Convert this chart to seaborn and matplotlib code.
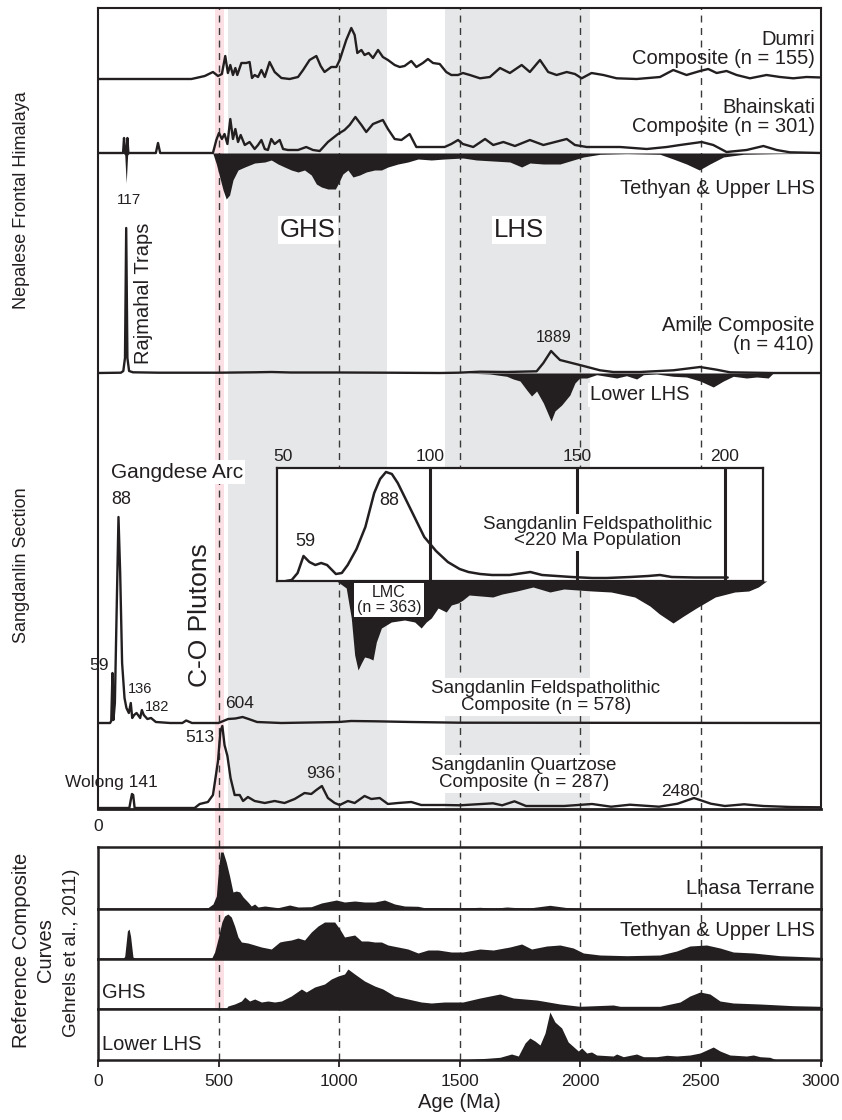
import numpy as np
import pandas as pd
import matplotlib
matplotlib.use("Agg")
import matplotlib.pyplot as plt
import seaborn as sns
from matplotlib import font_manager

# Detrital zircon age curves: (age in Ma, relative probability)
dumri = [(0, 0), (387, 0), (401, 0.7), (443, 3), (477, 7), (498, 3), (514, 5), (528, 23), (539, 6), (549, 14),
         (560, 4), (570, 11), (578, 4), (595, 16), (615, 16), (629, 17), (639, 1), (650, 4), (664, 2), (678, 9),
         (692, 2), (712, 17), (733, 7), (761, 1), (795, 0), (830, 2), (851, 9), (878, 19), (906, 23), (924, 13),
         (940, 7), (968, 12), (989, 12), (1003, 19), (1030, 39), (1051, 51), (1065, 44), (1076, 26), (1093, 29),
         (1106, 24), (1123, 26), (1141, 21), (1162, 29), (1182, 22), (1203, 19), (1231, 14), (1252, 12),
         (1272, 13), (1300, 18), (1321, 12), (1348, 16), (1369, 20), (1390, 16), (1418, 15), (1445, 7),
         (1466, 4), (1494, 4), (1514, 6), (1543, 4), (1585, 0.7), (1626, 2), (1668, 11), (1709, 6), (1758, 14),
         (1792, 7), (1834, 19), (1868, 7), (1903, 4), (1945, 7), (1979, 5), (2007, 0.7), (2048, 6), (2097, 4),
         (2152, 0.7), (2235, 0), (2332, 2), (2387, 9), (2442, 4), (2498, 8), (2532, 10), (2567, 6), (2608, 8),
         (2650, 4), (2705, 0.7), (2774, 4), (2830, 2), (2885, 0.7), (2940, 2), (3000, 1.5)]

bhainskati = [(0, 0), (100, 0), (104, 0), (108, 15), (112, 0), (118, 0), (122, 15), (126, 0), (240, 0), (249, 10),
              (258, 0), (477, 0), (491, 13), (502, 20), (514, 14), (525, 19), (537, 9), (549, 34), (560, 14),
              (570, 24), (581, 11), (592, 18), (609, 8), (629, 11), (650, 4), (664, 8), (678, 13), (692, 4),
              (705, 3), (719, 14), (733, 9), (754, 13), (768, 4), (788, 3), (830, 3), (864, 6), (892, 3), (920, 2),
              (954, 11), (996, 19), (1023, 23), (1044, 28), (1068, 36), (1093, 28), (1113, 21), (1141, 29),
              (1182, 33), (1203, 24), (1231, 14), (1259, 13), (1293, 19), (1321, 6), (1362, 6), (1397, 6),
              (1438, 6), (1466, 9), (1494, 13), (1514, 9), (1557, 6), (1606, 14), (1640, 8), (1682, 11), (1730, 7),
              (1792, 13), (1848, 8), (1945, 14), (1979, 8), (2028, 6), (2097, 6), (2166, 6), (2277, 4), (2360, 6),
              (2415, 8), (2505, 11), (2553, 8), (2608, 1), (2691, 3), (2761, 7), (2816, 3), (2871, 0.7), (3000, 0)]

tethyan_top = [(0, 0), (105, 0), (111, 2), (117, 30), (123, 2), (130, 0), (470, 0), (477, 0.7), (491, 11), (505, 24),
               (519, 37), (532, 46), (546, 42), (560, 27), (581, 17), (609, 14), (650, 10), (692, 9), (719, 7),
               (747, 11), (774, 14), (802, 17), (830, 19), (857, 17), (885, 22), (906, 31), (927, 34), (954, 36),
               (985, 36), (996, 31), (1016, 21), (1037, 17), (1058, 24), (1086, 22), (1113, 19), (1148, 17),
               (1176, 17), (1203, 14), (1245, 11), (1286, 9), (1328, 6), (1383, 7), (1438, 6), (1514, 5),
               (1571, 7), (1640, 8), (1709, 9), (1758, 14), (1792, 10), (1848, 11), (1917, 11), (1972, 7),
               (2014, 4), (2083, 1.3), (2194, 0.7), (2332, 1.3), (2387, 6), (2442, 11), (2495, 17), (2539, 11),
               (2595, 4), (2678, 1.3), (2816, 0.7), (3000, 0.3)]

amile = [(0, 0), (95, 0.3), (105, 2), (112, 15), (117, 145), (122, 15), (129, 2), (145, 0.7), (250, 0.3), (500, 0.3),
         (650, 0.7), (720, 1), (800, 0.5), (1000, 0.5), (1200, 0.3), (1419, 0), (1495, 0.3), (1585, 1.3),
         (1696, 1), (1820, 1.7), (1848, 10), (1880, 22), (1896, 18), (1917, 13), (1999, 8), (2083, 2.7),
         (2138, 1), (2249, 1), (2387, 2.7), (2498, 6), (2567, 3.3), (2622, 0.7), (2802, 0), (3000, 0)]

lower_lhs_top = [(1540, 0), (1557, 0.3), (1626, 1), (1696, 3.3), (1723, 6), (1751, 8), (1779, 17), (1799, 23),
                 (1820, 18), (1848, 30), (1880, 48), (1896, 38), (1924, 32), (1958, 22), (1979, 10), (1999, 5),
                 (2028, 5), (2069, 1.7), (2110, 3.3), (2152, 5), (2193, 2.7), (2235, 6), (2263, 1.7), (2318, 1),
                 (2387, 3.3), (2442, 4), (2498, 8), (2553, 14), (2595, 8), (2636, 3.3), (2691, 5), (2733, 4),
                 (2781, 5), (2802, 0)]

lmc = [(990, 0), (996, 1), (1030, 7), (1051, 37), (1065, 74), (1079, 89), (1093, 82), (1106, 76), (1123, 77),
       (1141, 79), (1155, 61), (1176, 47), (1217, 41), (1272, 39), (1314, 41), (1341, 47), (1362, 41), (1383, 37),
       (1411, 27), (1445, 31), (1466, 24), (1494, 22), (1514, 19), (1540, 14), (1638, 16), (1677, 13), (1738, 10),
       (1805, 6), (1875, 11), (1933, 8), (2051, 10), (2129, 11), (2227, 16), (2290, 25), (2330, 33), (2386, 42),
       (2430, 35), (2483, 27), (2561, 16), (2642, 11), (2700, 10), (2740, 6), (2768, 1), (2775, 0)]

feldspatholithic = [(0, 0), (50, 0), (55, 2), (60, 50), (64, 3), (70, 20), (78, 120), (85, 206), (92, 150), (100, 60),
                    (110, 25), (118, 15), (128, 10), (136, 20), (142, 5), (150, 8), (160, 10), (175, 5), (182, 13),
                    (190, 8), (205, 4), (220, 5), (240, 1), (300, 0), (350, 0), (366, 2.5), (390, 0), (500, 0),
                    (540, 4), (570, 4.5), (600, 6), (625, 4), (660, 1), (760, 0), (1000, 1), (1050, 2), (1150, 1.7),
                    (1300, 1), (1500, 0.3), (3000, 0)]

quartzose = [(0, 0), (130, 0), (136, 8), (141, 14), (146, 13), (152, 0), (401, 0), (422, 4), (456, 6), (477, 13),
             (498, 47), (508, 77), (516, 82), (525, 63), (537, 52), (550, 30), (567, 13), (588, 13), (602, 7),
             (622, 11), (650, 7), (692, 5), (733, 7), (774, 5), (816, 9), (857, 15), (885, 14), (906, 18), (929, 22),
             (954, 10), (982, 5), (1003, 3), (1037, 7), (1065, 5), (1106, 12), (1134, 9), (1169, 10), (1203, 4),
             (1245, 5), (1300, 6), (1341, 3), (1383, 3), (1438, 3), (1503, 2.7), (1639, 4.7), (1677, 2.7),
             (1728, 6.7), (1776, 2), (1934, 2), (2050, 4), (2129, 1.3), (2207, 3.3), (2328, 1.3), (2405, 4.3),
             (2473, 10), (2543, 4.3), (2601, 2), (2681, 3.7), (2760, 2), (2876, 1), (3000, 0.7)]

# <220 Ma population (inset)
young_pop = [(51, 0), (53, 1), (55, 8), (57, 25), (59, 19), (61, 16), (63, 18), (65, 16), (68, 7), (70, 8), (72, 16),
             (75, 32), (78, 54), (81, 88), (83, 102), (85, 109), (87, 107), (89, 98), (91, 86), (94, 68), (98, 44),
             (102, 30), (106, 19), (110, 12), (113, 9), (117, 7), (121, 6), (127, 6), (134, 9), (138, 6), (143, 5),
             (148, 4), (155, 3), (160, 3), (168, 4), (174, 5), (178, 6), (182, 4), (190, 3.5), (201, 3.5)]

# Reference composite curves (Gehrels et al., 2011)
ref_lhasa = [(0, 0), (415, 0), (456, 1.3), (477, 5), (491, 13), (501, 43), (509, 57), (519, 57), (532, 47), (546, 33),
             (560, 17), (574, 18), (588, 17), (602, 12), (622, 7), (636, 3), (650, 5), (664, 2), (692, 3),
             (747, 1.3), (795, 4), (830, 2), (885, 2.3), (927, 6), (989, 9), (1023, 7), (1065, 8), (1106, 7),
             (1148, 7), (1189, 9), (1231, 5), (1272, 3), (1328, 2.7), (1355, 1.3), (1514, 1), (1585, 1.7),
             (1640, 0.7), (1696, 2), (1779, 0.7), (1875, 3.7), (1958, 1), (2000, 0.3), (3000, 0)]

ref_tethyan = [(0, 0), (104, 0), (111, 3), (122, 28), (129, 30), (135, 23), (145, 2), (159, 0), (470, 0), (484, 7),
               (498, 20), (514, 37), (525, 43), (539, 45), (553, 42), (567, 33), (581, 22), (595, 17), (622, 16),
               (650, 14), (678, 12), (719, 10), (754, 17), (774, 18), (802, 19), (830, 21), (857, 19), (885, 27),
               (913, 33), (940, 37), (982, 37), (1003, 30), (1023, 22), (1044, 23), (1065, 24), (1093, 18),
               (1120, 18), (1148, 17), (1176, 17), (1203, 14), (1245, 12), (1286, 10), (1328, 6), (1369, 9),
               (1411, 9), (1466, 7), (1514, 7), (1585, 10), (1640, 9), (1709, 12), (1758, 15), (1799, 10),
               (1862, 13), (1917, 14), (1972, 11), (2014, 6), (2083, 4), (2194, 3.3), (2332, 4), (2401, 8),
               (2456, 13), (2525, 14), (2581, 11), (2636, 7), (2719, 6), (2830, 3.3), (3000, 1.7)]

ref_ghs = [(0, 0), (530, 0), (539, 3), (567, 5), (595, 8), (609, 12), (629, 8), (650, 10), (678, 7), (705, 8),
           (733, 7), (761, 8), (802, 13), (844, 20), (864, 17), (899, 22), (940, 25), (968, 30), (996, 33),
           (1023, 35), (1037, 40), (1065, 35), (1106, 28), (1148, 23), (1182, 20), (1231, 13), (1286, 10),
           (1341, 7), (1383, 6), (1438, 7), (1514, 7), (1585, 11), (1668, 15), (1723, 11), (1820, 9), (1917, 5),
           (2000, 2.7), (2138, 4), (2166, 2.7), (2332, 2.7), (2415, 7), (2456, 13), (2498, 17), (2539, 15),
           (2581, 8), (2636, 6), (2747, 5), (2885, 3.3), (3000, 2.7)]

ref_lower_lhs = [(1500, 0), (1543, 0.7), (1613, 1.7), (1668, 2.7), (1716, 6), (1744, 4), (1772, 17), (1792, 22),
                 (1813, 19), (1834, 15), (1855, 27), (1875, 48), (1896, 38), (1924, 32), (1951, 18), (1979, 12),
                 (1993, 9), (2007, 12), (2028, 7), (2048, 8), (2069, 5), (2138, 4), (2152, 6), (2180, 3.3),
                 (2235, 6), (2263, 3.3), (2318, 3.3), (2360, 4.7), (2401, 4), (2456, 5), (2498, 7), (2553, 13),
                 (2581, 9), (2622, 5), (2691, 4), (2719, 5), (2747, 3.3), (2788, 2.7), (2816, 0)]

guide_ages = [500, 1000, 1500, 2000, 2500]
bottom_ticks = [0, 500, 1000, 1500, 2000, 2500, 3000]
inset_ticks = [50, 100, 150, 200]

INK = "#231f20"
DASH = "#3a3a3a"
GRAY = "#e6e7e8"
PINK = "#fbe1e6"

sns.set_theme(style="white")
installed = {f.name for f in font_manager.fontManager.ttflist}
plt.rcParams["font.family"] = ["Liberation Sans" if "Liberation Sans" in installed else "DejaVu Sans"]
plt.rcParams["text.color"] = INK


def curve(pairs):
    return pd.DataFrame(pairs, columns=["age", "p"])


def draw_line(ax, pairs, base=0.0, lw=1.7):
    df = curve(pairs)
    df["y"] = df["p"] + base
    sns.lineplot(data=df, x="age", y="y", ax=ax, color=INK, lw=lw, estimator=None, sort=False,
                 legend=False, zorder=3)


def fill_down(ax, pairs, base):
    df = curve(pairs)
    ax.fill_between(df["age"], base, base - df["p"], color=INK, lw=0, zorder=2)


def fill_up(ax, pairs):
    df = curve(pairs)
    ax.fill_between(df["age"], 0, df["p"], color=INK, lw=0, zorder=2)


W, H = 842, 1120
fig = plt.figure(figsize=(W / 100, H / 100), dpi=100)
L, R = 98, 821


def rect(top, bottom, left=L, right=R):
    return [left / W, 1 - bottom / H, (right - left) / W, (bottom - top) / H]


# ---- main panel ----
ax = fig.add_axes(rect(8, 809))
ax.set_xlim(0, 3000)
ax.set_ylim(0, 801)
gap = -(847 - 809) / 801
ax.axvspan(540, 1200, color=GRAY, lw=0, zorder=0)
ax.axvspan(1440, 2040, color=GRAY, lw=0, zorder=0)
ax.axvspan(484, 523, ymin=gap, ymax=1, color=PINK, lw=0, zorder=0.5, clip_on=False)
for a in guide_ages:
    ax.axvline(a, ymin=gap, ymax=1, color=DASH, lw=1.0, ls=(0, (5, 4)), clip_on=False, zorder=1)

base = {"dumri": 730, "bhainskati": 656, "amile": 436, "lmc": 228, "feld": 86, "quartz": 1}
fill_down(ax, tethyan_top, base["bhainskati"])
fill_down(ax, lower_lhs_top, base["amile"])
fill_down(ax, lmc, base["lmc"])
draw_line(ax, dumri, base["dumri"])
draw_line(ax, bhainskati, base["bhainskati"])
draw_line(ax, amile, base["amile"])
draw_line(ax, feldspatholithic, base["feld"])
draw_line(ax, quartzose, base["quartz"])

box = dict(facecolor="white", edgecolor="none", pad=1.5)
ax.text(2975, 760, "Dumri\nComposite (n = 155)", ha="right", va="center", fontsize=14.5, linespacing=0.95, zorder=5)
ax.text(2975, 692, "Bhainskati\nComposite (n = 301)", ha="right", va="center", fontsize=14.5, linespacing=0.95, zorder=5)
ax.text(2975, 621, "Tethyan & Upper LHS", ha="right", va="center", fontsize=14.5, zorder=5)
ax.text(129, 609, "117", ha="center", va="center", fontsize=11, zorder=5)
ax.text(871, 579, "GHS", ha="center", va="center", fontsize=18.5, bbox=box, zorder=5)
ax.text(1747, 579, "LHS", ha="center", va="center", fontsize=18.5, bbox=box, zorder=5)
ax.text(187, 516, "Rajmahal Traps", ha="center", va="center", rotation=90, fontsize=14.5, zorder=5)
ax.text(2971, 474, "Amile Composite\n(n = 410)", ha="right", va="center", fontsize=14.5, linespacing=0.95, zorder=5)
ax.text(1892, 471, "1889", ha="center", va="center", fontsize=11.5, zorder=5)
ax.text(2041, 414, "Lower LHS", ha="left", va="center", fontsize=14.5, bbox=box, zorder=5)
ax.text(54, 337, "Gangdese Arc", ha="left", va="center", fontsize=15, bbox=box, zorder=5)
ax.text(95, 309, "88", ha="center", va="center", fontsize=13, zorder=5)
ax.text(4, 144, "59", ha="center", va="center", fontsize=12.5, zorder=5)
ax.text(174, 120, "136", ha="center", va="center", fontsize=10.5, zorder=5)
ax.text(245, 102, "182", ha="center", va="center", fontsize=10.5, zorder=5)
ax.text(589, 106, "604", ha="center", va="center", fontsize=12.5, zorder=5)
ax.text(423, 194, "C-O Plutons", ha="center", va="center", rotation=90, fontsize=19, zorder=5)
ax.text(421, 71, "513", ha="center", va="center", fontsize=12.5, zorder=5)
ax.text(249, 27, "Wolong 141", ha="right", va="center", fontsize=12.5, zorder=5)
ax.text(925, 35, "936", ha="center", va="center", fontsize=12.5, zorder=5)
ax.text(1859, 112, "Sangdanlin Feldspatholithic\nComposite (n = 578)", ha="center", va="center",
        fontsize=13.5, linespacing=0.95, bbox=box, zorder=5)
ax.text(1767, 35, "Sangdanlin Quartzose\nComposite (n = 287)", ha="center", va="center",
        fontsize=13.5, linespacing=0.95, bbox=box, zorder=5)
ax.text(2415, 17, "2480", ha="center", va="center", fontsize=12.5, zorder=5)
ax.text(1207, 209, "LMC\n(n = 363)", ha="center", va="center", fontsize=11.5, linespacing=0.95,
        bbox=dict(facecolor="white", edgecolor="none", pad=2), zorder=5)

ax.set_xticks([0])
ax.set_xticklabels(["0"])
ax.set_yticks([])
ax.tick_params(axis="x", length=0, labelsize=12.5, pad=7, colors=INK)
ax.set_xlabel("")
ax.set_ylabel("")
for s in ax.spines.values():
    s.set_color(INK)
    s.set_linewidth(1.5)
ax.spines["bottom"].set_linewidth(2.0)

# ---- inset: <220 Ma population ----
ax_in = fig.add_axes(rect(468, 581, 277, 763))
ax_in.set_facecolor("white")
ax_in.set_xlim(48, 213)
ax_in.set_ylim(0, 113)
for t in inset_ticks[1:]:
    ax_in.axvline(t, color=INK, lw=2.2, zorder=2)
draw_line(ax_in, young_pop, 0, lw=1.8)
ax_in.text(86, 81, "88", ha="center", va="center", fontsize=13, zorder=5)
ax_in.text(57.7, 39, "59", ha="center", va="center", fontsize=13, zorder=5)
ax_in.text(157, 48.5, "Sangdanlin Feldspatholithic\n<220 Ma Population", ha="center", va="center",
           fontsize=13.5, linespacing=0.95, bbox=box, zorder=5)
ax_in.xaxis.tick_top()
ax_in.set_xticks(inset_ticks)
ax_in.set_yticks([])
ax_in.tick_params(axis="x", length=0, labelsize=12.5, pad=3, colors=INK)
ax_in.set_xlabel("")
ax_in.set_ylabel("")
for s in ax_in.spines.values():
    s.set_color(INK)
    s.set_linewidth(1.6)

# ---- reference composite curves ----
ref_rows = [
    (847, 909, ref_lhasa, "Lhasa Terrane", 2975, 21, "right", True),
    (909, 959, ref_tethyan, "Tethyan & Upper LHS", 2975, 28, "right", True),
    (959, 1009, ref_ghs, "GHS", 17, 16, "left", True),
    (1009, 1060, ref_lower_lhs, "Lower LHS", 17, 15, "left", False),
]
for i, (top, bot, pairs, label, tx, ty, ha, pink) in enumerate(ref_rows):
    axr = fig.add_axes(rect(top, bot))
    axr.set_xlim(0, 3000)
    axr.set_ylim(0, bot - top)
    if pink:
        axr.axvspan(484, 523, color=PINK, lw=0, zorder=0)
    for a in guide_ages:
        axr.axvline(a, color=DASH, lw=1.0, ls=(0, (5, 4)), zorder=1)
    fill_up(axr, pairs)
    axr.text(tx, ty, label, ha=ha, va="center", fontsize=14.5, zorder=5)
    axr.set_yticks([])
    for s in axr.spines.values():
        s.set_color(INK)
        s.set_linewidth(1.8)
    if i < 3:
        axr.set_xticks([])
    else:
        axr.set_xticks(bottom_ticks)
        axr.tick_params(axis="x", direction="out", length=5, width=1.3, labelsize=12.5, pad=5,
                        colors=INK, bottom=True)
        axr.set_xlabel("Age (Ma)", fontsize=14.5, labelpad=3, color=INK)

# ---- side labels ----
fig.text(22 / W, 1 - 200 / H, "Nepalese Frontal Himalaya", rotation=90, ha="center", va="center", fontsize=13)
fig.text(22 / W, 1 - 565 / H, "Sangdanlin Section", rotation=90, ha="center", va="center", fontsize=13)
fig.text(22 / W, 1 - 950 / H, "Reference Composite", rotation=90, ha="center", va="center", fontsize=14.5)
fig.text(45 / W, 1 - 950 / H, "Curves", rotation=90, ha="center", va="center", fontsize=14.5)
fig.text(72 / W, 1 - 953 / H, "Gehrels et al., 2011)", rotation=90, ha="center", va="center", fontsize=13.5)

fig.savefig("out.png", dpi=100)
